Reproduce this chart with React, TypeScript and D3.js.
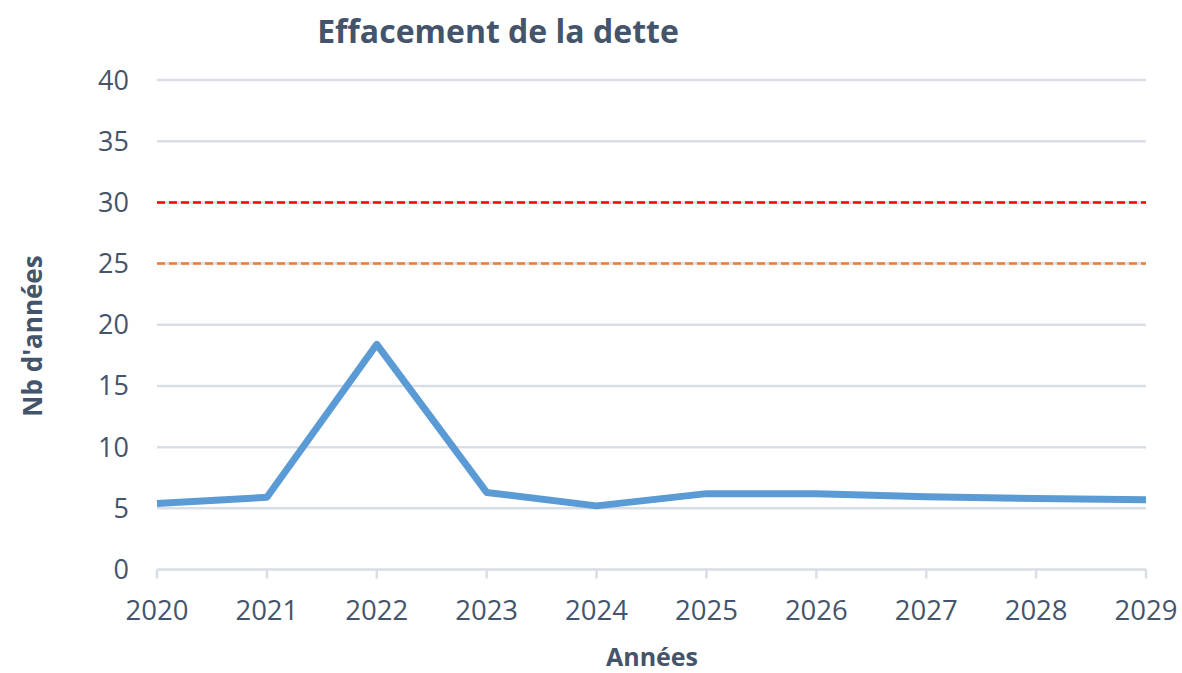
import React, { useEffect, useRef } from "react";
import * as d3 from "d3";

const years = [2020, 2021, 2022, 2023, 2024, 2025, 2026, 2027, 2028, 2029];
const values = [5.4, 5.9, 18.4, 6.3, 5.2, 6.2, 6.2, 5.95, 5.8, 5.7];
const yTicks = [0, 5, 10, 15, 20, 25, 30, 35, 40];
const thresholds = [
  { value: 30, color: "#FF0000" },
  { value: 25, color: "#ED7D31" },
];
const title = "Effacement de la dette";
const xTitle = "Années";
const yTitle = "Nb d'années";

const W = 1182;
const H = 673;
const FONT = "'Open Sans', 'Liberation Sans', sans-serif";
const TEXT = "#44546A";

export default function App() {
  const ref = useRef<SVGSVGElement | null>(null);
  useEffect(() => {
    const svg = d3.select(ref.current);
    svg.selectAll("*").remove();
    const left = 157, right = 1146, top = 80, bottom = 569.5;
    const x = d3.scaleLinear().domain([2020, 2029]).range([left, right]);
    const y = d3.scaleLinear().domain([0, 40]).range([bottom, top]);

    // grid lines
    svg.append("g").selectAll("line").data(yTicks).join("line")
      .attr("x1", left).attr("x2", right)
      .attr("y1", d => y(d)).attr("y2", d => y(d))
      .attr("stroke", "#D9DDE5").attr("stroke-width", 2.5);

    // x tick marks
    svg.append("g").selectAll("line").data(years).join("line")
      .attr("x1", d => x(d)).attr("x2", d => x(d))
      .attr("y1", bottom).attr("y2", bottom + 9)
      .attr("stroke", "#D9DDE5").attr("stroke-width", 2.5);

    // y tick labels
    svg.append("g").selectAll("text").data(yTicks).join("text")
      .attr("x", 129).attr("y", d => y(d) + 9.5)
      .attr("text-anchor", "end")
      .attr("font-family", FONT).attr("font-size", 27)
      .attr("fill", TEXT).text(d => String(d));

    // x tick labels
    svg.append("g").selectAll("text").data(years).join("text")
      .attr("x", d => x(d)).attr("y", 620)
      .attr("text-anchor", "middle")
      .attr("font-family", FONT).attr("font-size", 27.5)
      .attr("fill", TEXT).text(d => String(d));

    // thresholds
    svg.append("g").selectAll("line").data(thresholds).join("line")
      .attr("x1", left).attr("x2", right)
      .attr("y1", d => y(d.value)).attr("y2", d => y(d.value))
      .attr("stroke", d => d.color).attr("stroke-width", 2.5)
      .attr("stroke-dasharray", "8 4");

    // series line
    const line = d3.line<number>()
      .x((_, i) => x(years[i]))
      .y(d => y(d));
    svg.append("path").datum(values)
      .attr("d", line)
      .attr("fill", "none")
      .attr("stroke", "#5B9BD5")
      .attr("stroke-width", 7)
      .attr("stroke-linejoin", "round");

    // titles
    svg.append("text").attr("x", 498).attr("y", 43)
      .attr("text-anchor", "middle").attr("font-family", FONT)
      .attr("font-weight", 700).attr("font-size", 32).attr("fill", TEXT)
      .text(title);
    svg.append("text").attr("x", 652).attr("y", 666)
      .attr("text-anchor", "middle").attr("font-family", FONT)
      .attr("font-weight", 700).attr("font-size", 25).attr("fill", TEXT)
      .text(xTitle);
    svg.append("text")
      .attr("transform", "translate(42,336) rotate(-90)")
      .attr("text-anchor", "middle").attr("font-family", FONT)
      .attr("font-weight", 700).attr("font-size", 26).attr("fill", TEXT)
      .text(yTitle);
  }, []);
  return (
    <svg ref={ref} width={W} height={H}
      style={{ position: "absolute", left: 0, top: 0, background: "#fff" }} />
  );
}
